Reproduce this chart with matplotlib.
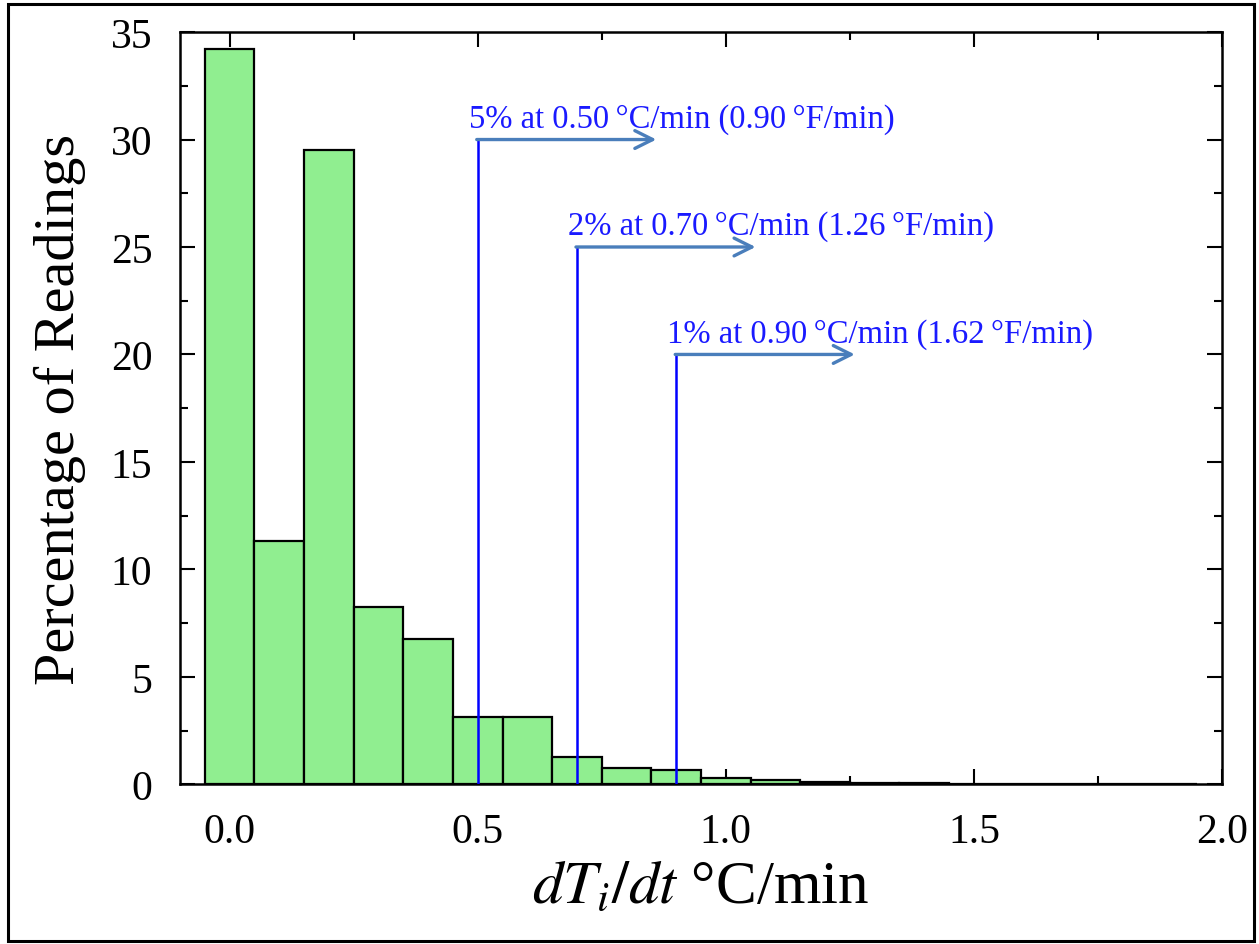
import matplotlib
matplotlib.use("Agg")
import matplotlib.pyplot as plt
from matplotlib.patches import Rectangle
from matplotlib.ticker import MultipleLocator, FormatStrFormatter

# histogram of rate of change, bin width 0.1 degC/min
bin_centers = [0.0, 0.1, 0.2, 0.3, 0.4, 0.5, 0.6, 0.7, 0.8, 0.9,
               1.0, 1.1, 1.2, 1.3, 1.4, 1.5, 1.6, 1.7, 1.8, 1.9]
percentages = [34.2, 11.3, 29.5, 8.25, 6.75, 3.15, 3.15, 1.25, 0.78, 0.66,
               0.3, 0.22, 0.1, 0.08, 0.05, 0.02, 0.01, 0.01, 0.01, 0.0]

# exceedance markers
marker_x = [0.50, 0.70, 0.90]
marker_y = [30, 25, 20]
marker_labels = [
    "5% at 0.50\u2009°C/min (0.90\u2009°F/min)",
    "2% at 0.70\u2009°C/min (1.26\u2009°F/min)",
    "1% at 0.90\u2009°C/min (1.62\u2009°F/min)",
]

plt.rcParams["font.family"] = ["Liberation Serif", "DejaVu Serif"]
plt.rcParams["mathtext.fontset"] = "stix"

fig = plt.figure(figsize=(12.59, 9.45), dpi=100)
ax = fig.add_axes([0.143, 0.169, 0.8276, 0.796])

ax.bar(bin_centers, percentages, width=0.1, color="#90EE90",
       edgecolor="black", linewidth=1.6, zorder=2)

for x, y, lab in zip(marker_x, marker_y, marker_labels):
    ax.plot([x, x], [0, y], color="#0000ff", lw=1.8, zorder=3)
    ax.annotate("", xy=(x + 0.36, y), xytext=(x - 0.002, y),
                arrowprops=dict(arrowstyle="->", color="#4a7ebb", lw=2.4,
                                mutation_scale=32, shrinkA=0, shrinkB=0),
                zorder=4)
    ax.text(x - 0.018, y + 0.6, lab, color="#1a1aff", fontsize=23.5,
            ha="left", va="baseline")

ax.set_xlim(-0.1, 2.0)
ax.set_ylim(0, 35)
ax.xaxis.set_major_locator(MultipleLocator(0.5))
ax.xaxis.set_minor_locator(MultipleLocator(0.25))
ax.yaxis.set_major_locator(MultipleLocator(5))
ax.yaxis.set_minor_locator(MultipleLocator(2.5))
ax.xaxis.set_major_formatter(FormatStrFormatter("%.1f"))

ax.tick_params(which="both", direction="in", top=True, right=True,
               width=1.5, labelsize=30)
ax.tick_params(which="major", length=10.5, pad=20)
ax.tick_params(which="minor", length=5.5)
for s in ax.spines.values():
    s.set_linewidth(1.8)

ax.set_ylabel("Percentage of Readings", fontsize=42, labelpad=18)
ax.set_xlabel("$dT_i/dt$ °C/min", fontsize=44, labelpad=6)

# outer frame around the figure
fig.patches.append(Rectangle((0.006, 0.003), 0.99, 0.992,
                             transform=fig.transFigure, fill=False,
                             edgecolor="black", linewidth=2.2))

fig.savefig("out.png", dpi=100)
